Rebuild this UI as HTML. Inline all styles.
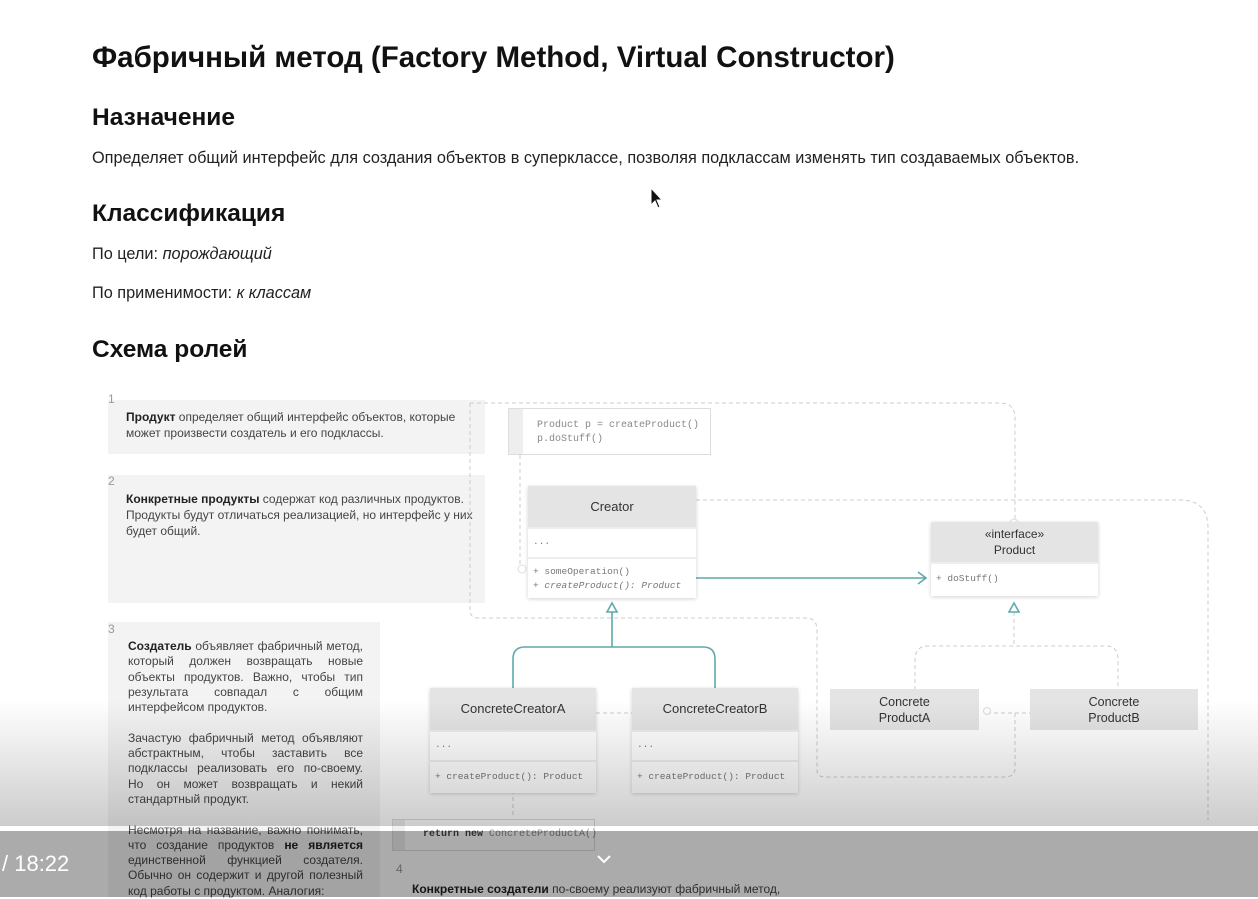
<!DOCTYPE html>
<html><head><meta charset="utf-8"><style>
*{margin:0;padding:0;box-sizing:border-box}
body{width:1258px;height:897px;overflow:hidden;background:#fff;position:relative;font-family:"Liberation Sans","Noto Sans CJK SC",sans-serif;color:#111}
.a{position:absolute;white-space:nowrap}
h1{position:absolute;left:92px;top:41px;font-size:29.5px;font-weight:bold}
h2{position:absolute;left:92px;font-size:24.5px;font-weight:bold}
.p{position:absolute;left:92px;font-size:16.3px;color:#222;white-space:nowrap}
.panel{position:absolute;background:#f3f3f3}
.pt{position:absolute;font-size:12px;line-height:16px;color:#444;white-space:normal}
.pt b{color:#222}
.num{position:absolute;font-size:12px;color:#999}
.box{position:absolute;background:#fff;box-shadow:0 1px 4px rgba(0,0,0,.18)}
.hd{background:#e4e4e4;display:flex;align-items:center;justify-content:center;text-align:center;font-size:13px;color:#333;line-height:16px}
.sec{border-top:2px solid #eee;font-family:"Liberation Mono",monospace;font-size:9.5px;color:#777;padding:0 5px;white-space:nowrap}
.mono{font-family:"Liberation Mono",monospace;white-space:nowrap}
</style></head><body>
<h1>Фабричный метод (Factory Method, Virtual Constructor)</h1>
<h2 style="top:104px">Назначение</h2>
<div class="p" style="top:149px">Определяет общий интерфейс для создания объектов в суперклассе, позволяя подклассам изменять тип создаваемых объектов.</div>
<h2 style="top:200px">Классификация</h2>
<div class="p" style="top:245px">По цели: <i>порождающий</i></div>
<div class="p" style="top:284px">По применимости: <i>к классам</i></div>
<h2 style="top:336px">Схема ролей</h2>

<div class="panel" style="left:108px;top:400px;width:377px;height:54px"></div>
<div class="panel" style="left:108px;top:475px;width:377px;height:128px"></div>
<div class="panel" style="left:108px;top:622px;width:272px;height:275px"></div>
<div class="num" style="left:108px;top:392px">1</div>
<div class="num" style="left:108px;top:474px">2</div>
<div class="num" style="left:108px;top:622px">3</div>
<div class="num" style="left:396px;top:862px">4</div>
<div class="pt" style="left:126px;top:409px;width:345px"><b>Продукт</b> определяет общий интерфейс объектов, которые может произвести создатель и его подклассы.</div>
<div class="pt" style="left:126px;top:491px;width:350px"><b>Конкретные продукты</b> содержат код различных продуктов. Продукты будут отличаться реализацией, но интерфейс у них будет общий.</div>
<div class="pt" style="left:128px;top:639px;width:235px;text-align:justify;font-size:12px;line-height:15.3px"><b>Создатель</b> объявляет фабричный метод, который должен возвращать новые объекты продуктов. Важно, чтобы тип результата совпадал с общим интерфейсом продуктов.<br><br>Зачастую фабричный метод объявляют абстрактным, чтобы заставить все подклассы реализовать его по-своему. Но он может возвращать и некий стандартный продукт.<br><br>Несмотря на название, важно понимать, что создание продуктов <b>не является</b> единственной функцией создателя. Обычно он содержит и другой полезный код работы с продуктом. Аналогия:</div>
<div class="pt" style="left:412px;top:881px;width:420px;white-space:nowrap"><b>Конкретные создатели</b> по-своему реализуют фабричный метод,</div>

<svg class="a" style="left:0;top:0" width="1258" height="897">
<g fill="none" stroke="#ccc" stroke-width="1" stroke-dasharray="4,3">
<path d="M470 403 H1000 Q1015 403 1015 418 V522"/>
<path d="M470 403 V610 Q470 618 478 618 H600"/>
<path d="M520 455 V570"/>
<path d="M696 500 H1180 Q1208 500 1208 528 V820"/>
<path d="M600 618 H806 Q817 618 817 630 V770 Q817 777 825 777 H1005 Q1015 777 1015 768 V712"/>
<path d="M1014 612 V646 M915 690 V660 Q915 646 928 646 H1106 Q1118 646 1118 660 V690"/>
<path d="M596 713 H632 M987 713 H1036"/>
<path d="M513 790 V818"/>
</g>
<g fill="none" stroke="#5fa9ab" stroke-width="1.6">
<path d="M696 578 H926 M918 572 L926 578 L918 584"/>
<path d="M612 612 V647 M612 647 H525 Q513 647 513 659 V688 M612 647 H703 Q715 647 715 659 V688"/>
<path d="M607 612 L612 603 L617 612 Z" fill="#fff"/>
<path d="M1009 612 L1014 603 L1019 612 Z" fill="#fff"/>
</g>
<g fill="#fff" stroke="#ddd"><circle cx="689" cy="500" r="4"/><circle cx="522" cy="569" r="4"/><circle cx="1014" cy="523" r="4"/><circle cx="589" cy="711" r="3.5"/><circle cx="639" cy="711" r="3.5"/><circle cx="987" cy="711" r="3.5"/><circle cx="1037" cy="711" r="3.5"/><circle cx="513" cy="788" r="4"/></g>
</svg>

<div class="box" style="left:508px;top:408px;width:203px;height:47px;background:#fff;border:1px solid #ddd;box-shadow:none"><div style="position:absolute;left:0;top:0;width:14px;height:45px;background:#eee"></div><div class="mono" style="position:absolute;left:28px;top:10px;font-size:10px;line-height:14px;color:#888">Product p = createProduct()<br>p.doStuff()</div></div>

<div class="box" style="left:528px;top:486px;width:168px;height:112px"><div class="hd" style="height:41px">Creator</div><div class="sec" style="height:30px;line-height:26px">...</div><div class="sec" style="height:41px;line-height:14px;padding-top:6px">+ someOperation()<br>+ <i>createProduct(): Product</i></div></div>

<div class="box" style="left:931px;top:522px;width:167px;height:74px"><div class="hd" style="height:40px;font-size:12px">«interface»<br>Product</div><div class="sec" style="height:34px;line-height:30px">+ doStuff()</div></div>

<div class="box" style="left:430px;top:688px;width:166px;height:105px"><div class="hd" style="height:42px">ConcreteCreatorA</div><div class="sec" style="height:30px;line-height:26px">...</div><div class="sec" style="height:33px;line-height:29px">+ createProduct(): Product</div></div>
<div class="box" style="left:632px;top:688px;width:166px;height:105px"><div class="hd" style="height:42px">ConcreteCreatorB</div><div class="sec" style="height:30px;line-height:26px">...</div><div class="sec" style="height:33px;line-height:29px">+ createProduct(): Product</div></div>
<div class="box" style="left:830px;top:689px;width:149px;height:41px;box-shadow:none"><div class="hd" style="height:41px;font-size:12.5px">Concrete<br>ProductA</div></div>
<div class="box" style="left:1030px;top:689px;width:168px;height:41px;box-shadow:none"><div class="hd" style="height:41px;font-size:12.5px">Concrete<br>ProductB</div></div>

<div class="box" style="left:392px;top:819px;width:203px;height:32px;border:1px solid #ddd;box-shadow:none"><div style="position:absolute;left:0;top:0;width:12px;height:30px;background:#eee"></div><div class="mono" style="position:absolute;left:30px;top:9px;font-size:10px;color:#888"><b style="color:#444">return new</b> ConcreteProductA()</div></div>

<div class="a" style="left:0;top:700px;width:1258px;height:126px;background:linear-gradient(rgba(0,0,0,0),rgba(0,0,0,.2))"></div>
<div class="a" style="left:0;top:826px;width:1258px;height:5px;background:rgba(255,255,255,.12)"></div>
<div class="a" style="left:0;top:831px;width:1258px;height:66px;background:rgba(0,0,0,.33)"></div>
<div class="a" style="left:2px;top:851px;font-size:22px;color:#fff">/ 18:22</div>
<svg class="a" style="left:596px;top:853px" width="16" height="12"><path d="M2 3 L8 9 L14 3" fill="none" stroke="#fff" stroke-width="2"/></svg>
<svg class="a" style="left:650px;top:187px" width="14" height="24"><path d="M1 1 V18 L5 14 L8 21 L10 20 L7 13 L12 13 Z" fill="#111" stroke="#fff" stroke-width="1"/></svg>
</body></html>
